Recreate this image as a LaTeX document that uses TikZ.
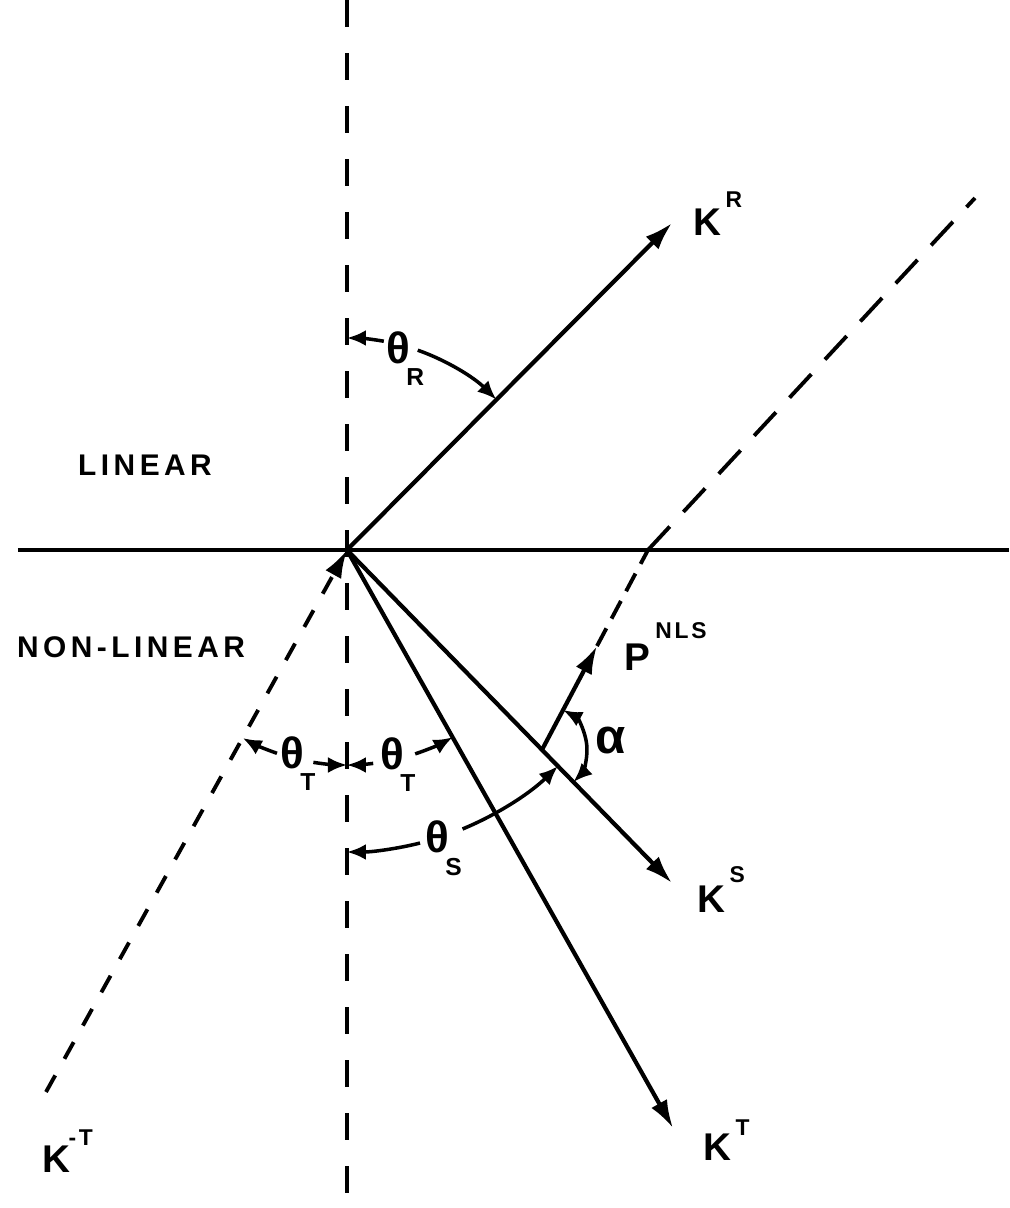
\documentclass[tikz,border=0pt]{standalone}
\usepackage{fontspec}
\setmainfont{Liberation Sans}
\usetikzlibrary{arrows.meta,calc}
\newcommand{\mysupfont}{\fontsize{6.5}{6.5}\selectfont\addfontfeatures{LetterSpace=12}}
\newcommand{\mysubfont}{\fontsize{7}{7}\selectfont}
\newcommand{\thfont}{\fontsize{12.5}{12.5}\selectfont}
\begin{document}
\begin{tikzpicture}[
  thick line/.style={line width=1.2pt},
  vec/.style={line width=1.2pt, -{Latex[length=2.8mm,width=1.8mm]}},
  vdash/.style={line width=1.1pt, dash pattern=on 2.7mm off 2.6mm},
  ddash/.style={line width=1.1pt, dash pattern=on 1.9mm off 1.9mm},
  pdash/.style={line width=1.1pt, dash pattern=on 2mm off 1.1mm},
  udash/.style={line width=1.1pt, dash pattern=on 3.2mm off 2mm},
  angarc/.style={line width=1pt},
  arcend/.style={angarc, -{Latex[length=1.9mm,width=1.6mm]}},
  lab/.style={inner sep=0pt, font=\fontsize{11}{12}\selectfont\bfseries},
  region/.style={inner sep=0pt, font=\fontsize{8.5}{10}\selectfont\bfseries\addfontfeatures{LetterSpace=15}}
]
\useasboundingbox (-3.47,-6.58) rectangle (6.62,5.50);
% key points
\coordinate (O) at (0,0);
\coordinate (KR) at (3.25,3.27);
\coordinate (KS) at (3.25,-3.33);
\coordinate (KT) at (3.26,-5.78);
\coordinate (KmT) at (-3.01,-5.42);
\coordinate (HL) at (-3.29,0);
\coordinate (HR) at (6.62,0);
\coordinate (VT) at (0,5.50);
\coordinate (VB) at (0,-6.58);
\coordinate (B) at (3.01,0);
\coordinate (UR) at (6.28,3.52);
\coordinate (F) at (1.95,-1.998);
\coordinate (PT) at (2.50,-0.96);
% lines
\draw[thick line] (HL) -- (HR);
\draw[vdash] (VT) -- (VB);
\draw[vec] (O) -- (KR);
\draw[vec] (O) -- (KS);
\draw[vec] (O) -- (KT);
\draw[ddash, -{Latex[length=2.8mm,width=1.8mm]}] (KmT) -- (O);
\draw[vec] (F) -- (PT);
\draw[pdash] (PT) -- (B);
\draw[udash] (B) -- (UR);
% theta_R
\draw[arcend] (80:2.12) arc[start angle=80,end angle=90,radius=2.12];
\draw[arcend] (70.5:2.12) arc[start angle=70.5,end angle=45.2,radius=2.12];
% theta_T left
\draw[arcend] (-109:2.15) arc[start angle=-109,end angle=-119,radius=2.15];
\draw[arcend] (-99:2.15) arc[start angle=-99,end angle=-90,radius=2.15];
% theta_T right
\draw[arcend] (-83:2.15) arc[start angle=-83,end angle=-90,radius=2.15];
\draw[arcend] (-71.5:2.15) arc[start angle=-71.5,end angle=-60.6,radius=2.15];
% theta_S
\draw[arcend] (-76:3.02) arc[start angle=-76,end angle=-90,radius=3.02];
\draw[arcend] (-67.5:3.02) arc[start angle=-67.5,end angle=-45.7,radius=3.02];
% alpha
\draw[angarc, {Latex[length=1.9mm,width=1.6mm]}-{Latex[length=1.9mm,width=1.6mm]}]
  ($(F)+(62:0.45)$) arc[start angle=62,end angle=-45.7,radius=0.45];
% labels
\node[region] (lin) at (-2.02,0.85) {LINEAR};
\node[region] (nonlin) at (-2.16,-0.97) {NON-LINEAR};
\node[lab, anchor=base west] (kr) at (3.46,3.15) {K\kern0.4mm\raisebox{2.8mm}{\mysupfont R}};
\node[lab, anchor=base west] (ks) at (3.50,-3.62) {K\kern0.4mm\raisebox{3.0mm}{\mysupfont S}};
\node[lab, anchor=base west] (kt) at (3.56,-6.10) {K\kern0.4mm\raisebox{2.5mm}{\mysupfont T}};
\node[lab, anchor=base west] (kmt) at (-3.05,-6.22) {K\kern-0.2mm\raisebox{2.7mm}{\mysupfont -T}};
\node[lab, anchor=base west] (pnls) at (2.77,-1.20) {P\kern0.5mm\raisebox{3.2mm}{\mysupfont NLS}};
\node[lab, anchor=base west] (thr) at (0.39,1.87) {\thfont θ\kern-0.4mm\raisebox{-2.2mm}{\mysubfont R}};
\node[lab, anchor=base west] (thtl) at (-0.67,-2.18) {\thfont θ\kern-0.4mm\raisebox{-2.2mm}{\mysubfont T}};
\node[lab, anchor=base west] (thtr) at (0.33,-2.19) {\thfont θ\kern-0.4mm\raisebox{-2.2mm}{\mysubfont T}};
\node[lab, anchor=base west] (ths) at (0.78,-3.02) {\thfont θ\kern-0.4mm\raisebox{-2.3mm}{\mysubfont S}};
\node[inner sep=0pt, anchor=base west, font=\fontsize{14}{14}\selectfont\bfseries] (al) at (2.48,-2.03) {α};
\end{tikzpicture}
\end{document}
